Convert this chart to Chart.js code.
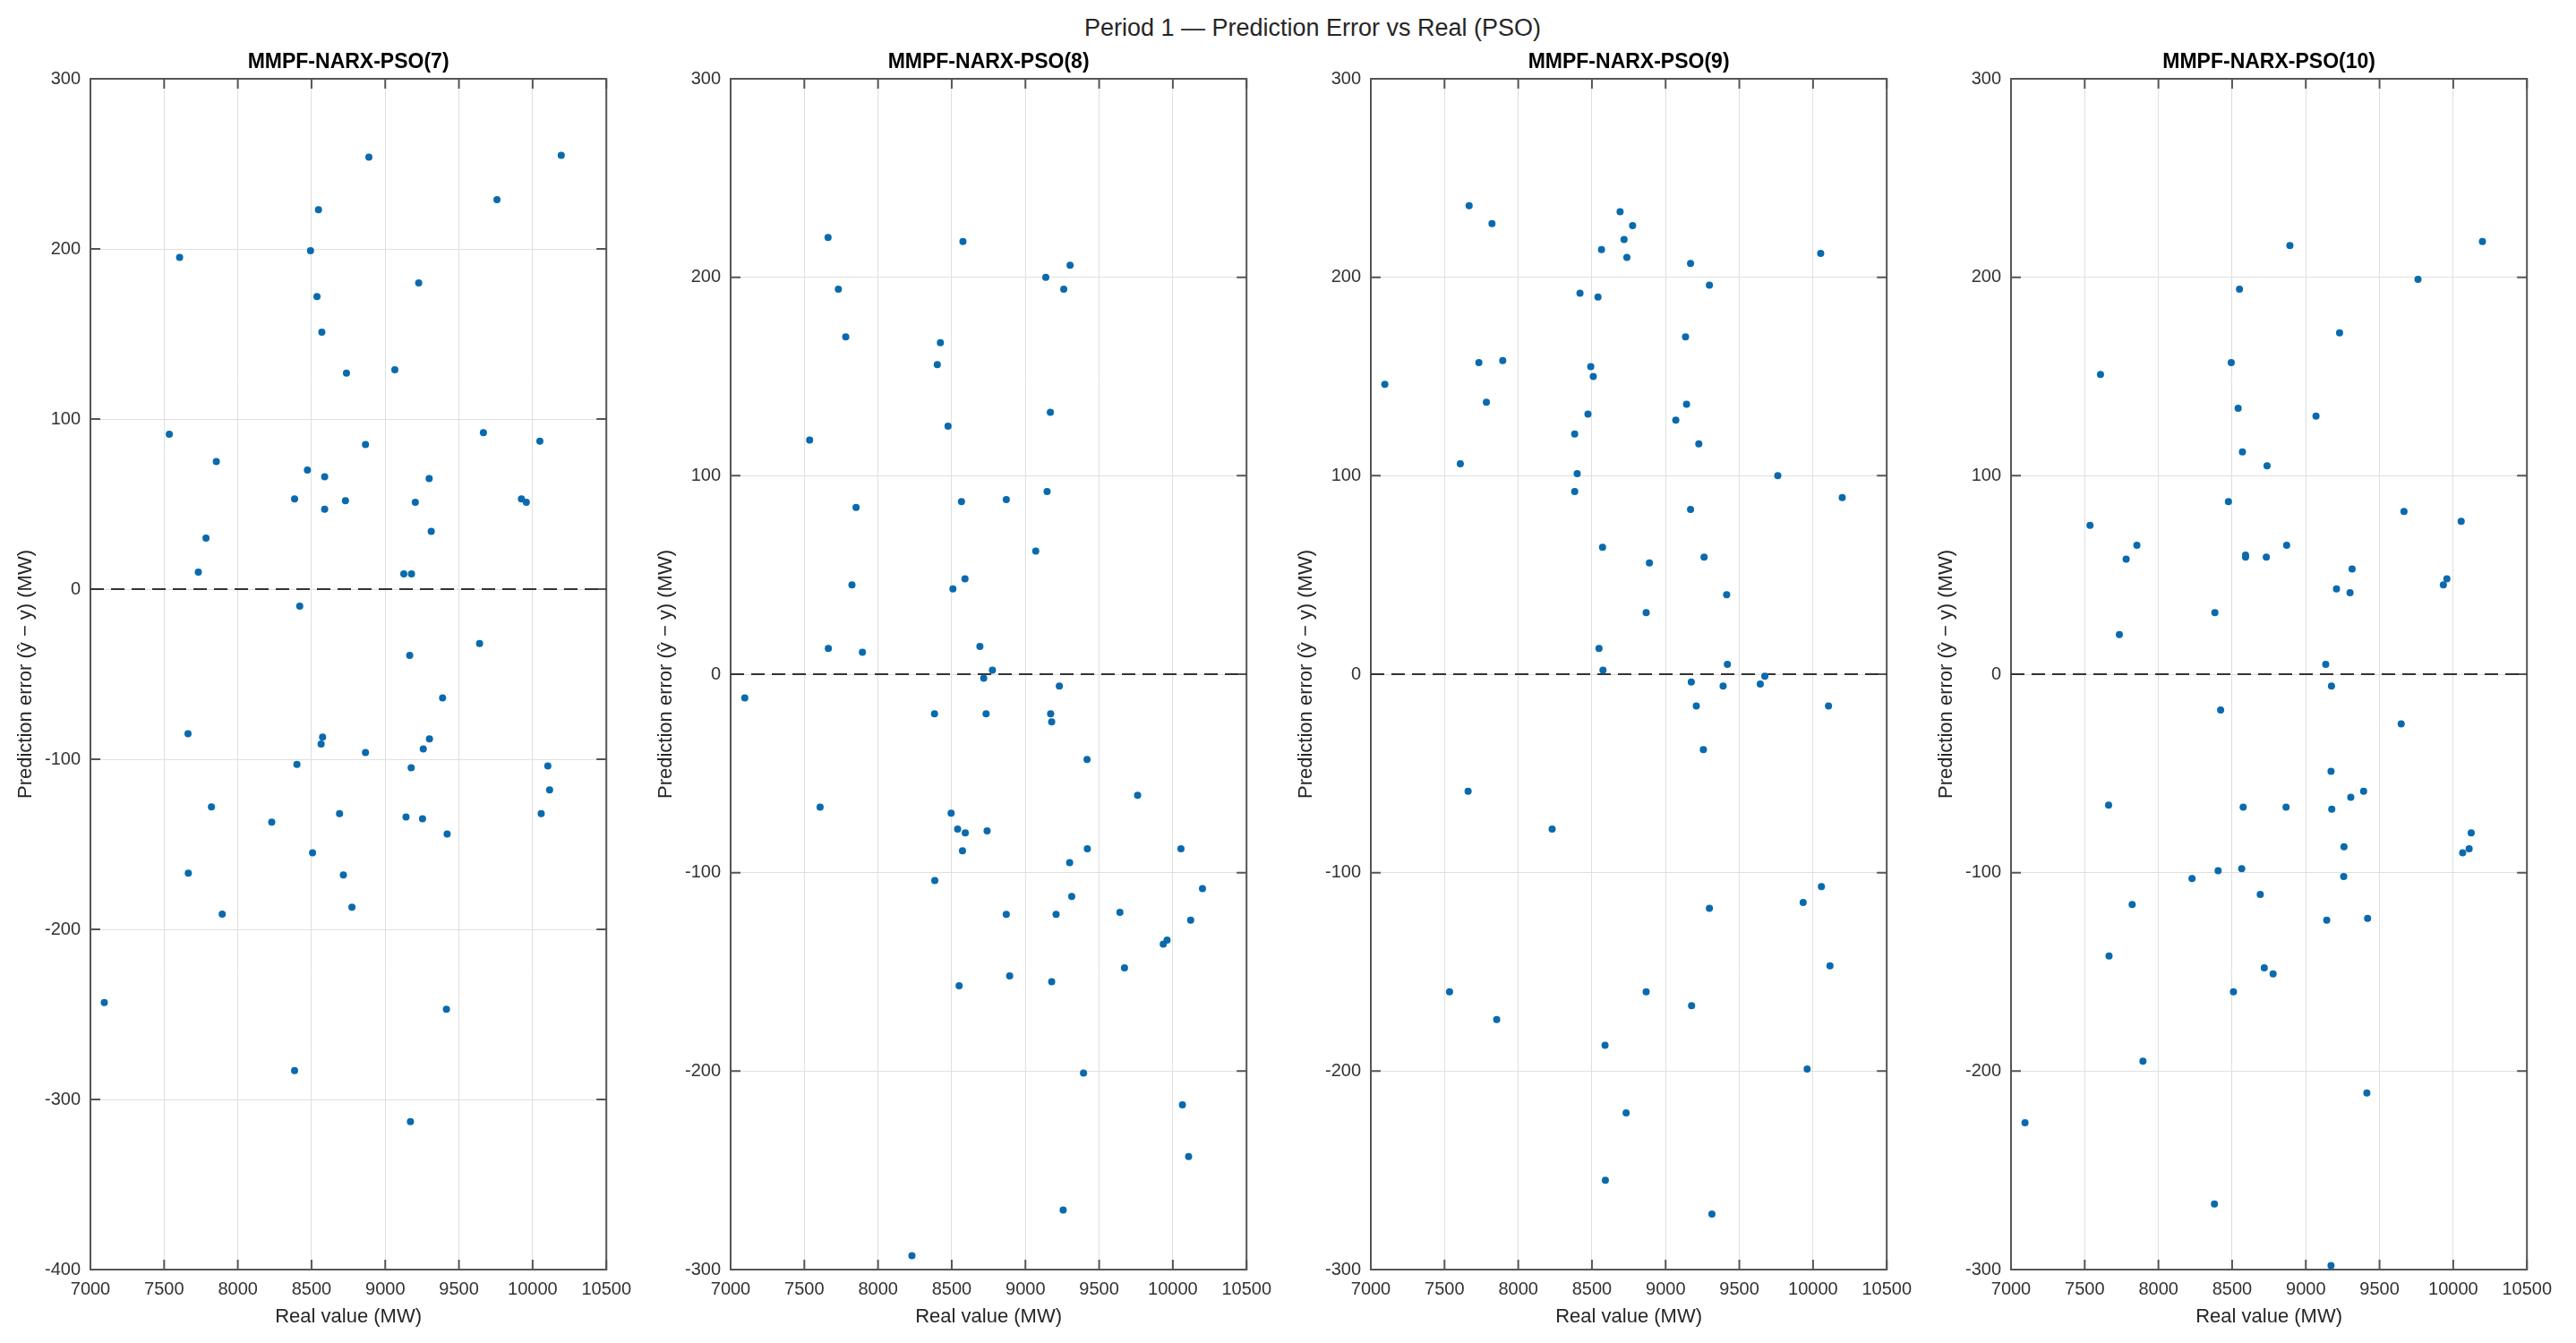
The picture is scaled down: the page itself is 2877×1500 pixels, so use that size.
<!DOCTYPE html>
<html><head><meta charset="utf-8">
<script src="https://cdn.jsdelivr.net/npm/chart.js@4.4.1/dist/chart.umd.min.js"></script>
<style>
html,body{margin:0;padding:0;background:#fff;width:2877px;height:1500px;overflow:hidden;}
.panel{position:absolute;top:0;width:715px;height:1500px;}
#suptitle{position:absolute;left:1466px;top:31px;transform:translate(-50%,-50%);font:27px "Liberation Sans",Arial,sans-serif;color:#262626;white-space:nowrap;}
</style></head><body>
<div id="suptitle"></div>
<div class="panel" style="left:0px"><canvas id="c0" width="715" height="1500"></canvas></div>
<div class="panel" style="left:715px"><canvas id="c1" width="715" height="1500"></canvas></div>
<div class="panel" style="left:1430px"><canvas id="c2" width="715" height="1500"></canvas></div>
<div class="panel" style="left:2145px"><canvas id="c3" width="715" height="1500"></canvas></div>
<script>
// ---------- data ----------
const figureTitle = 'Period 1 — Prediction Error vs Real (PSO)';
const panelTitles = ['MMPF-NARX-PSO(7)', 'MMPF-NARX-PSO(8)', 'MMPF-NARX-PSO(9)', 'MMPF-NARX-PSO(10)'];
const xAxisLabel = 'Real value (MW)';
const yAxisLabel = 'Prediction error (ŷ − y) (MW)';
const xTicks = [7000, 7500, 8000, 8500, 9000, 9500, 10000, 10500];
const yTicksP7 = [-400, -300, -200, -100, 0, 100, 200, 300];
const yTicksRest = [-300, -200, -100, 0, 100, 200, 300];
const zeroLevel = 0;

const realP7 = [8889, 10194, 9758, 8547, 8493, 7605, 9227, 8537, 8570, 8737, 9065, 7535, 9666, 8866, 10049, 7854, 8472, 8589, 9298, 8385, 8730, 9204, 8589, 9924, 9957, 9312, 7784, 7732, 9126, 9178, 8420, 9640, 9166,
  9389, 7662, 8575, 8565, 9300, 9258, 8866, 8401, 9176, 10103, 10115, 7821, 8690, 9141, 9253, 10058, 8230, 9420, 8507, 7664, 8716, 8774, 7894, 7094, 9415, 8385, 9171];
const errP7 = [254, 255, 229, 223, 199, 195, 180, 172, 151, 127, 129, 91, 92, 85, 87, 75, 70, 66, 65, 53, 52, 51, 47, 53, 51, 34, 30, 10, 9, 9, -10, -32, -39,
  -64, -85, -87, -91, -88, -94, -96, -103, -105, -104, -118, -128, -132, -134, -135, -132, -137, -144, -155, -167, -168, -187, -191, -243, -247, -283, -313];

const realP8 = [7661, 8576, 9303, 9138, 9260, 7731, 7781, 8423, 8402, 9169, 8475, 7536, 9147, 7851, 8566, 8870, 9070, 7823, 8590, 8508, 7663, 7894, 8691, 8776, 8717,
  7096, 9230, 8383, 8733, 9171, 9178, 9418, 9761, 7607, 8496, 8540, 8592, 8740, 8573, 9420, 10055, 9300, 8385, 9314, 10201, 8870, 9208, 9641, 10121, 9935, 9961, 9672, 8893, 9178, 8550, 9394, 10065, 10107, 9256, 8230];
const errP8 = [220, 218, 206, 200, 194, 194, 170, 167, 156, 132, 125, 118, 92, 84, 87, 88, 62, 45, 48, 43, 13, 11, 14, 2, -2,
  -12, -6, -20, -20, -20, -24, -43, -61, -67, -70, -78, -80, -79, -89, -88, -88, -95, -104, -112, -108, -121, -121, -120, -124, -136, -134, -148, -152, -155, -157, -201, -217, -243, -270, -293];

const realP9 = [7667, 7822, 8691, 8776, 8718, 8565, 8737, 10052, 9169, 9297, 8419, 8541, 9135, 7733, 7895, 8492, 8509, 7095, 9142, 7784, 8473, 9069, 8383, 9225, 7607, 8400, 9761, 8383, 10198, 9169, 8572, 8890, 9261, 9414, 8868, 8548, 9419, 8575, 9673,
  9174, 9390, 9642, 9208, 10105, 9256, 7660, 8230, 10057, 9933, 9297, 10115, 7534, 8868, 9176, 7854, 8589, 9960, 8732, 8591, 9314];
const errP9 = [236, 227, 233, 226, 219, 214, 210, 212, 207, 196, 192, 190, 170, 157, 158, 155, 150, 146, 136, 137, 131, 128, 121, 116, 106, 101, 100, 92, 89, 83, 64, 56, 59, 40, 31, 13, 5, 2, -1,
  -4, -6, -5, -16, -16, -38, -59, -78, -107, -115, -118, -147, -160, -160, -167, -174, -187, -199, -221, -255, -272];

const realP10 = [8892, 10198, 9761, 8550, 9229, 8494, 7607, 8541, 9069, 8570, 8737, 8475, 9666, 10054, 7536, 7854, 8870, 7781, 8591, 8591, 8732, 9314, 9957, 9933, 9208, 9300, 8383, 7735, 9135,
  9174, 8422, 9647, 9171, 7662, 9392, 9305, 8575, 8866, 9176, 10122, 10108, 10064, 9259, 8405, 8565, 8228, 9257, 8691, 7822, 9142, 9419, 7665, 8718, 8778, 8509, 7895, 9414, 7095, 8380, 9171];
const errP10 = [216, 218, 199, 194, 172, 157, 151, 134, 130, 112, 105, 87, 82, 77, 75, 65, 65, 58, 60, 59, 59, 53, 48, 45, 43, 41, 31, 20, 5,
  -6, -18, -25, -49, -66, -59, -62, -67, -67, -68, -80, -88, -90, -87, -99, -98, -103, -102, -111, -116, -124, -123, -142, -148, -151, -160, -195, -211, -226, -267, -298];

const panels = [
  {title: panelTitles[0], real: realP7, err: errP7, yTicks: yTicksP7},
  {title: panelTitles[1], real: realP8, err: errP8, yTicks: yTicksRest},
  {title: panelTitles[2], real: realP9, err: errP9, yTicks: yTicksRest},
  {title: panelTitles[3], real: realP10, err: errP10, yTicks: yTicksRest}
];

// ---------- rendering ----------
document.getElementById('suptitle').textContent = figureTitle;
Chart.defaults.font.family = '"Liberation Sans", Arial, Helvetica, sans-serif';
Chart.defaults.color = '#262626';

const boxPlugin = {
  id: 'matlabBox',
  beforeDatasetsDraw(chart) {
    const {ctx, chartArea: a, scales: {x, y}} = chart;
    const L = 11;
    ctx.save();
    ctx.strokeStyle = '#555555';
    ctx.lineWidth = 2;
    ctx.strokeRect(a.left, a.top, a.right - a.left, a.bottom - a.top);
    ctx.beginPath();
    x.ticks.forEach(t => {
      const px = x.getPixelForValue(t.value);
      ctx.moveTo(px, a.top); ctx.lineTo(px, a.top + L);
      ctx.moveTo(px, a.bottom); ctx.lineTo(px, a.bottom - L);
    });
    y.ticks.forEach(t => {
      const py = y.getPixelForValue(t.value);
      ctx.moveTo(a.left, py); ctx.lineTo(a.left + L, py);
      ctx.moveTo(a.right, py); ctx.lineTo(a.right - L, py);
    });
    ctx.stroke();
    ctx.restore();
  }
};

panels.forEach((p, i) => {
  const pts = p.real.map((v, k) => ({x: v, y: p.err[k]}));
  const yt = p.yTicks;
  new Chart(document.getElementById('c' + i), {
    type: 'scatter',
    data: {
      datasets: [
        {
          data: pts,
          backgroundColor: '#0a6aae',
          borderWidth: 0,
          pointRadius: 4,
          pointHoverRadius: 4,
          clip: false
        },
        {
          type: 'line',
          data: [{x: xTicks[0], y: zeroLevel}, {x: xTicks[xTicks.length - 1], y: zeroLevel}],
          borderColor: '#333333',
          borderWidth: 2,
          borderDash: [15, 8],
          pointRadius: 0,
          fill: false
        }
      ]
    },
    options: {
      responsive: false,
      animation: false,
      devicePixelRatio: 1,
      events: [],
      layout: {autoPadding: false, padding: {left: 0, right: 25, top: 0, bottom: 0}},
      plugins: {
        legend: {display: false},
        tooltip: {enabled: false},
        title: {
          display: true,
          fullSize: false,
          text: p.title,
          color: '#000000',
          font: {size: 23, weight: 'bold'},
          padding: {top: 56.2, bottom: 4.2}
        }
      },
      scales: {
        x: {
          type: 'linear',
          min: xTicks[0],
          max: xTicks[xTicks.length - 1],
          afterBuildTicks: s => { s.ticks = xTicks.map(v => ({value: v})); },
          afterFit: s => { s.height = 82; },
          ticks: {font: {size: 20}, color: '#333333', padding: 10, maxRotation: 0, autoSkip: false, callback: v => String(v)},
          grid: {color: '#e0e0e0', lineWidth: 1, drawTicks: false},
          border: {display: false},
          title: {display: true, text: xAxisLabel, font: {size: 22}, color: '#262626', padding: {top: 0, bottom: 16}}
        },
        y: {
          type: 'linear',
          min: yt[0],
          max: yt[yt.length - 1],
          afterBuildTicks: s => { s.ticks = yt.map(v => ({value: v})); },
          afterFit: s => { s.width = 101; },
          ticks: {font: {size: 20}, color: '#333333', padding: 11, autoSkip: false, callback: v => String(v)},
          grid: {color: '#e0e0e0', lineWidth: 1, drawTicks: false},
          border: {display: false},
          title: {display: true, text: yAxisLabel, font: {size: 22}, color: '#262626', padding: {top: 16, bottom: 0}}
        }
      }
    },
    plugins: [boxPlugin]
  });
});
</script>
</body></html>
